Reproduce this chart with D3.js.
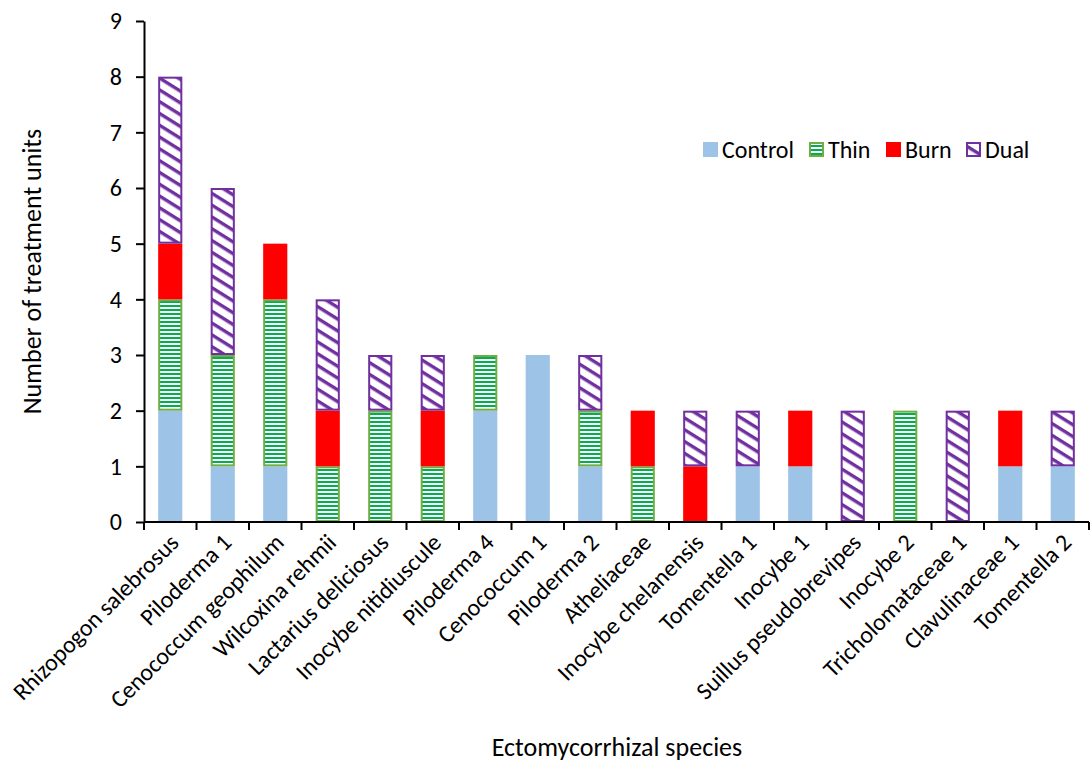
<!DOCTYPE html>
<html lang="en">
<head>
<meta charset="UTF-8">
<title>Ectomycorrhizal species</title>
<script src="https://d3js.org/d3.v7.min.js"></script>
<style>
    body { margin: 0; background: #fff; }
    text { font-family: Carlito, Calibri, "Open Sans", sans-serif; fill: #000; }
</style>
</head>
<body>
<svg id="chart"></svg>
<script>
const species = ["Rhizopogon salebrosus", "Piloderma 1", "Cenococcum geophilum", "Wilcoxina rehmii",
    "Lactarius deliciosus", "Inocybe nitidiuscule", "Piloderma 4", "Cenococcum 1", "Piloderma 2",
    "Atheliaceae", "Inocybe chelanensis", "Tomentella 1", "Inocybe 1", "Suillus pseudobrevipes",
    "Inocybe 2", "Tricholomataceae 1", "Clavulinaceae 1", "Tomentella 2"];
const treatments = ["Control", "Thin", "Burn", "Dual"];
const control = [2, 1, 1, 0, 0, 0, 2, 3, 1, 0, 0, 1, 1, 0, 0, 0, 1, 1];
const thin    = [2, 2, 3, 1, 2, 1, 1, 0, 1, 1, 0, 0, 0, 0, 2, 0, 0, 0];
const burn    = [1, 0, 1, 1, 0, 1, 0, 0, 0, 1, 1, 0, 1, 0, 0, 0, 1, 0];
const dual    = [3, 3, 0, 2, 1, 1, 0, 0, 1, 0, 1, 1, 0, 2, 0, 2, 0, 1];
const yTicks = [0, 1, 2, 3, 4, 5, 6, 7, 8, 9];

const width = 1090, height = 763;
const margin = { top: 21, right: 1, bottom: 241, left: 144 };

const svg = d3.select("#chart").attr("width", width).attr("height", height);
const defs = svg.append("defs");

// horizontal green stripes for Thin
const thinPat = defs.append("pattern").attr("id", "thin")
    .attr("patternUnits", "userSpaceOnUse").attr("width", 8).attr("height", 4);
thinPat.append("rect").attr("width", 8).attr("height", 4).attr("fill", "#fff");
thinPat.append("rect").attr("y", 1).attr("width", 8).attr("height", 2).attr("fill", "#00B050");

// diagonal purple stripes for Dual
const dualPat = defs.append("pattern").attr("id", "dual")
    .attr("patternUnits", "userSpaceOnUse").attr("width", 10).attr("height", 10)
    .attr("patternTransform", "rotate(32)");
dualPat.append("rect").attr("width", 10).attr("height", 10).attr("fill", "#fff");
dualPat.append("rect").attr("width", 10).attr("height", 3.4).attr("fill", "#7030A0");

const fills = { Control: "#9DC3E6", Thin: "url(#thin)", Burn: "#FF0000", Dual: "url(#dual)" };
const strokes = { Control: "none", Thin: "#70AD47", Burn: "none", Dual: "#7030A0" };

const rows = species.map((s, i) => ({ species: s, Control: control[i], Thin: thin[i], Burn: burn[i], Dual: dual[i] }));
const series = d3.stack().keys(treatments)(rows);

const x = d3.scaleBand().domain(species).range([margin.left, width - margin.right]).paddingInner(0.54).paddingOuter(0.27);
const y = d3.scaleLinear().domain([0, 9]).range([height - margin.bottom, margin.top]);

const g = svg.append("g");
series.forEach(s => {
    g.append("g").selectAll("rect")
        .data(s.filter(d => d[1] > d[0]))
        .enter().append("rect")
        .attr("x", d => x(d.data.species) + 1)
        .attr("y", d => y(d[1]) + 1)
        .attr("width", x.bandwidth() - 2)
        .attr("height", d => y(d[0]) - y(d[1]) - 2)
        .attr("fill", fills[s.key])
        .attr("stroke", strokes[s.key] === "none" ? fills[s.key] : strokes[s.key])
        .attr("stroke-width", 2);
});

// y axis
const yAxis = svg.append("g")
    .attr("transform", `translate(${margin.left},0)`)
    .call(d3.axisLeft(y).tickValues(yTicks).tickSize(8).tickSizeOuter(0));
yAxis.select(".domain").attr("stroke", "#000").attr("stroke-width", 2);
yAxis.selectAll(".tick line").attr("stroke", "#000").attr("stroke-width", 2);
yAxis.selectAll(".tick text").attr("font-size", 24).attr("x", -22).attr("font-family", "Carlito, Calibri, sans-serif");

// x axis
const xAxisY = y(0);
const xa = svg.append("g");
xa.append("line").attr("x1", margin.left).attr("x2", width - margin.right)
    .attr("y1", xAxisY).attr("y2", xAxisY).attr("stroke", "#000").attr("stroke-width", 2);
xa.selectAll(".xt").data(d3.range(species.length + 1)).enter().append("line")
    .attr("x1", i => margin.left + i * (width - margin.right - margin.left) / species.length)
    .attr("x2", i => margin.left + i * (width - margin.right - margin.left) / species.length)
    .attr("y1", xAxisY).attr("y2", xAxisY + 8)
    .attr("stroke", "#000").attr("stroke-width", 2);
xa.selectAll(".xl").data(species).enter().append("text")
    .attr("font-size", 24)
    .attr("text-anchor", "end")
    .attr("transform", d => `translate(${x(d) + x.bandwidth() / 2 + 10},${xAxisY + 22}) rotate(-45)`)
    .text(d => d);

// axis titles
svg.append("text").attr("font-size", 26).attr("text-anchor", "middle")
    .attr("transform", `translate(41,${(margin.top + xAxisY) / 2}) rotate(-90)`)
    .text("Number of treatment units");
svg.append("text").attr("font-size", 26).attr("text-anchor", "middle")
    .attr("x", 617).attr("y", 756)
    .text("Ectomycorrhizal species");

// legend
const legendX = [703, 809, 886, 966];
const lg = svg.append("g");
treatments.forEach((t, i) => {
    lg.append("rect").attr("x", legendX[i] + 1).attr("y", 143).attr("width", 13).attr("height", 13)
        .attr("fill", fills[t]).attr("stroke", strokes[t] === "none" ? fills[t] : strokes[t]).attr("stroke-width", 2);
    lg.append("text").attr("x", legendX[i] + 19).attr("y", 158).attr("font-size", 24).text(t);
});
</script>
</body>
</html>
